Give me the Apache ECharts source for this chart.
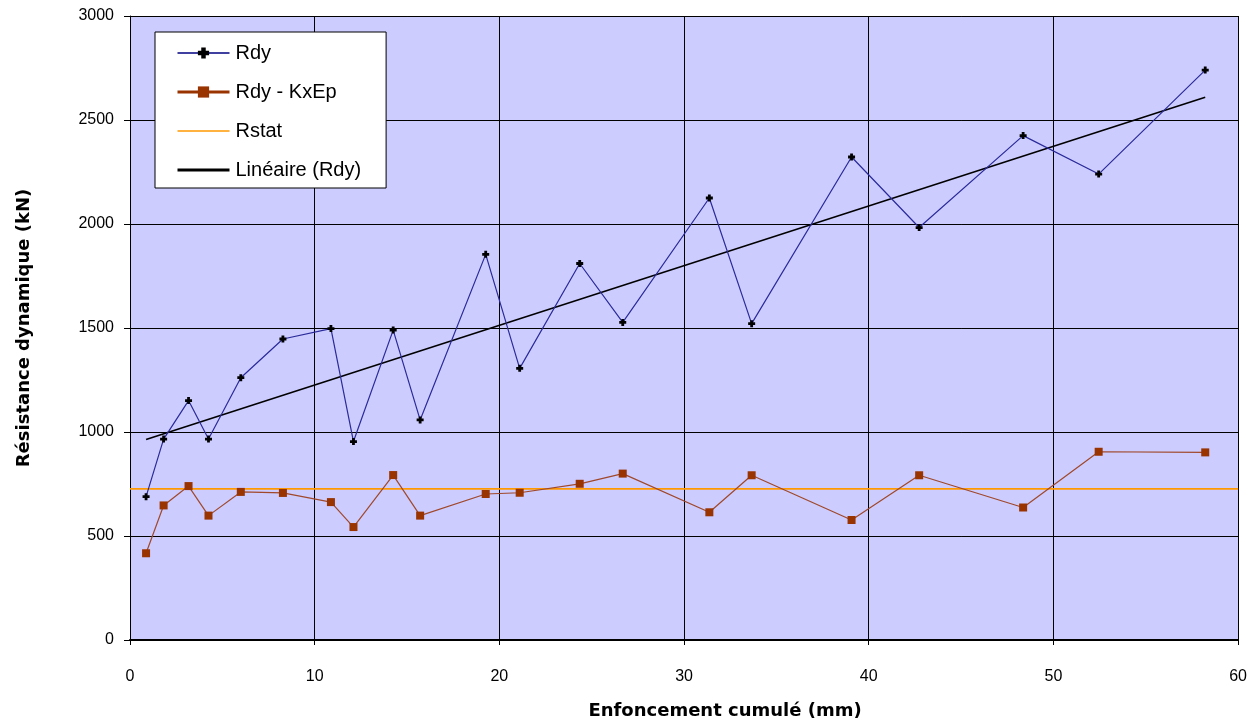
<!DOCTYPE html>
<html>
<head>
<meta charset="utf-8">
<script src="https://cdn.jsdelivr.net/npm/echarts@6/dist/echarts.min.js"></script>
<style>
html,body{margin:0;padding:0;background:#fff;}
#chart{width:1250px;height:725px;}
</style>
</head>
<body>
<div id="chart"></div>
<script>
// Data
var depth = [0.87, 1.82, 3.17, 4.25, 6.0, 8.28, 10.88, 12.1, 14.25, 15.71, 19.26, 21.1, 24.35, 26.68, 31.37, 33.66, 39.07, 42.73, 48.36, 52.45, 58.22];
var rdy = [689, 966, 1151, 966, 1261, 1447, 1497, 954, 1490, 1058, 1854, 1306, 1810, 1527, 2125, 1521, 2322, 1983, 2425, 2240, 2740];
var rdyKxEp = [417, 647, 740, 598, 712, 707, 663, 543, 793, 598, 702, 708, 751, 800, 614, 792, 577, 792, 637, 905, 902];
var rstatValue = 727;
var rstatRange = [0, 60];
var yTicks = [0, 500, 1000, 1500, 2000, 2500, 3000];
var xTicks = [0, 10, 20, 30, 40, 50, 60];

function pairs(xs, ys) { return xs.map(function (x, i) { return [x, ys[i]]; }); }

// Linear trend of Rdy (least squares)
var n = depth.length, sx = 0, sy = 0, sxx = 0, sxy = 0;
for (var i = 0; i < n; i++) { sx += depth[i]; sy += rdy[i]; sxx += depth[i] * depth[i]; sxy += depth[i] * rdy[i]; }
var slope = (n * sxy - sx * sy) / (n * sxx - sx * sx);
var icpt = (sy - slope * sx) / n;
var xFirst = depth[0], xLast = depth[n - 1];
var trend = [[xFirst, icpt + slope * xFirst], [xLast, icpt + slope * xLast]];

var font = '"Liberation Sans", Arial, sans-serif';
var titleFont = '"DejaVu Sans", Verdana, sans-serif';
var plusPath = 'path://M3,0H7V3H10V7H7V10H3V7H0V3H3Z';

var chart = echarts.init(document.getElementById('chart'), null, { renderer: 'canvas' });
chart.setOption({
  animation: false,
  backgroundColor: '#ffffff',
  textStyle: { fontFamily: font },
  grid: {
    left: 130, right: 11, top: 16, bottom: 85,
    show: true, backgroundColor: '#CCCCFF', borderWidth: 0
  },
  legend: {
    orient: 'vertical',
    left: 155, top: 32,
    backgroundColor: '#ffffff',
    borderColor: '#000000', borderWidth: 1,
    padding: [11, 25, 8, 21],
    itemWidth: 52, itemHeight: 14, itemGap: 19,
    textStyle: { fontFamily: font, fontSize: 20, color: '#000', lineHeight: 20, padding: [0, 0, 0, 1] },
    data: [
      { name: 'Rdy', lineStyle: { width: 1.5, color: '#000080' } },
      { name: 'Rdy - KxEp', lineStyle: { width: 3, color: '#993300' } },
      { name: 'Rstat', itemStyle: { opacity: 0 }, lineStyle: { width: 1.5, color: '#FF9900' } },
      { name: 'Linéaire (Rdy)', itemStyle: { opacity: 0 }, lineStyle: { width: 3, color: '#000000' } }
    ]
  },
  xAxis: {
    type: 'value', min: 0, max: 60, interval: 10,
    name: 'Enfoncement cumulé (mm)', nameLocation: 'middle', nameGap: 62,
    nameTextStyle: { fontFamily: titleFont, fontSize: 18, fontWeight: 'bold', color: '#000', padding: [0, 0, 0, 82] },
    axisLine: { show: true, onZero: false, lineStyle: { color: '#000', width: 2 } },
    axisTick: { show: true, length: 5, lineStyle: { color: '#000' } },
    axisLabel: { fontFamily: font, fontSize: 16, color: '#000', margin: 29,
      formatter: function (v) { return xTicks.indexOf(v) >= 0 ? String(v) : ''; } },
    splitLine: { show: true, lineStyle: { color: '#000', width: 1 } }
  },
  yAxis: {
    type: 'value', min: 0, max: 3000, interval: 500,
    name: 'Résistance dynamique (kN)', nameLocation: 'middle', nameGap: 97,
    nameTextStyle: { fontFamily: titleFont, fontSize: 18, fontWeight: 'bold', color: '#000' },
    axisLine: { show: true, lineStyle: { color: '#000', width: 1 } },
    axisTick: { show: true, length: 6, lineStyle: { color: '#000' } },
    axisLabel: { fontFamily: font, fontSize: 16, color: '#000', margin: 16,
      formatter: function (v) { return yTicks.indexOf(v) >= 0 ? String(v) : ''; } },
    splitLine: { show: true, lineStyle: { color: '#000', width: 1 } }
  },
  series: [
    {
      name: 'Rstat', type: 'line', z: 2,
      data: pairs(rstatRange, [rstatValue, rstatValue]),
      showSymbol: false, symbol: 'none',
      lineStyle: { color: '#FF9900', width: 1.8 },
      itemStyle: { color: '#FF9900' }
    },
    {
      name: 'Linéaire (Rdy)', type: 'line', z: 3,
      data: trend, showSymbol: false, symbol: 'none',
      lineStyle: { color: '#000000', width: 1.6 },
      itemStyle: { color: '#000000' }
    },
    {
      name: 'Rdy - KxEp', type: 'line', z: 4,
      data: pairs(depth, rdyKxEp),
      symbol: 'rect', symbolSize: 8,
      lineStyle: { color: '#A0482A', width: 1.2 },
      itemStyle: { color: '#993300' }
    },
    {
      name: 'Rdy', type: 'line', z: 5,
      data: pairs(depth, rdy),
      symbol: plusPath, symbolSize: 7,
      lineStyle: { color: '#2A2A9A', width: 1.2 },
      itemStyle: { color: '#000000' }
    }
  ]
});
</script>
</body>
</html>
